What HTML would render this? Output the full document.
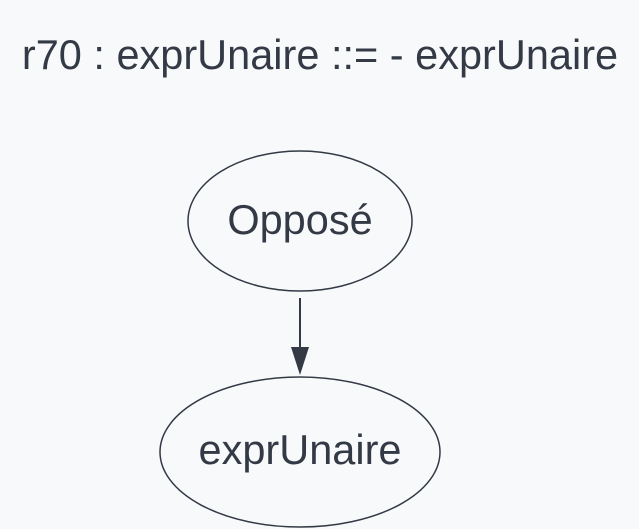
<!DOCTYPE html>
<html><head><meta charset="utf-8"><style>
html,body{margin:0;padding:0;background:#f8f9fb;}
svg{display:block}
</style></head><body>
<svg width="639" height="529" viewBox="0 0 639 529" xmlns="http://www.w3.org/2000/svg">
<rect width="639" height="529" fill="#f8f9fb"/>
<text x="320" y="69" text-anchor="middle" font-family="Liberation Sans, sans-serif" font-size="41.5" fill="#333a45">r70 : exprUnaire ::= - exprUnaire</text>
<ellipse cx="300" cy="221" rx="112" ry="70" fill="#f8f9fb" stroke="#333a45" stroke-width="1.5"/>
<text x="300" y="234" text-anchor="middle" font-family="Liberation Sans, sans-serif" font-size="41.5" fill="#333a45">Opposé</text>
<line x1="300" y1="298" x2="300" y2="350" stroke="#333a45" stroke-width="2"/>
<polygon points="291,347 309,347 300,375" fill="#333a45"/>
<ellipse cx="300" cy="452" rx="140" ry="75" fill="#f8f9fb" stroke="#333a45" stroke-width="1.5"/>
<text x="300" y="464" text-anchor="middle" font-family="Liberation Sans, sans-serif" font-size="41.5" fill="#333a45">exprUnaire</text>
</svg>
</body></html>
